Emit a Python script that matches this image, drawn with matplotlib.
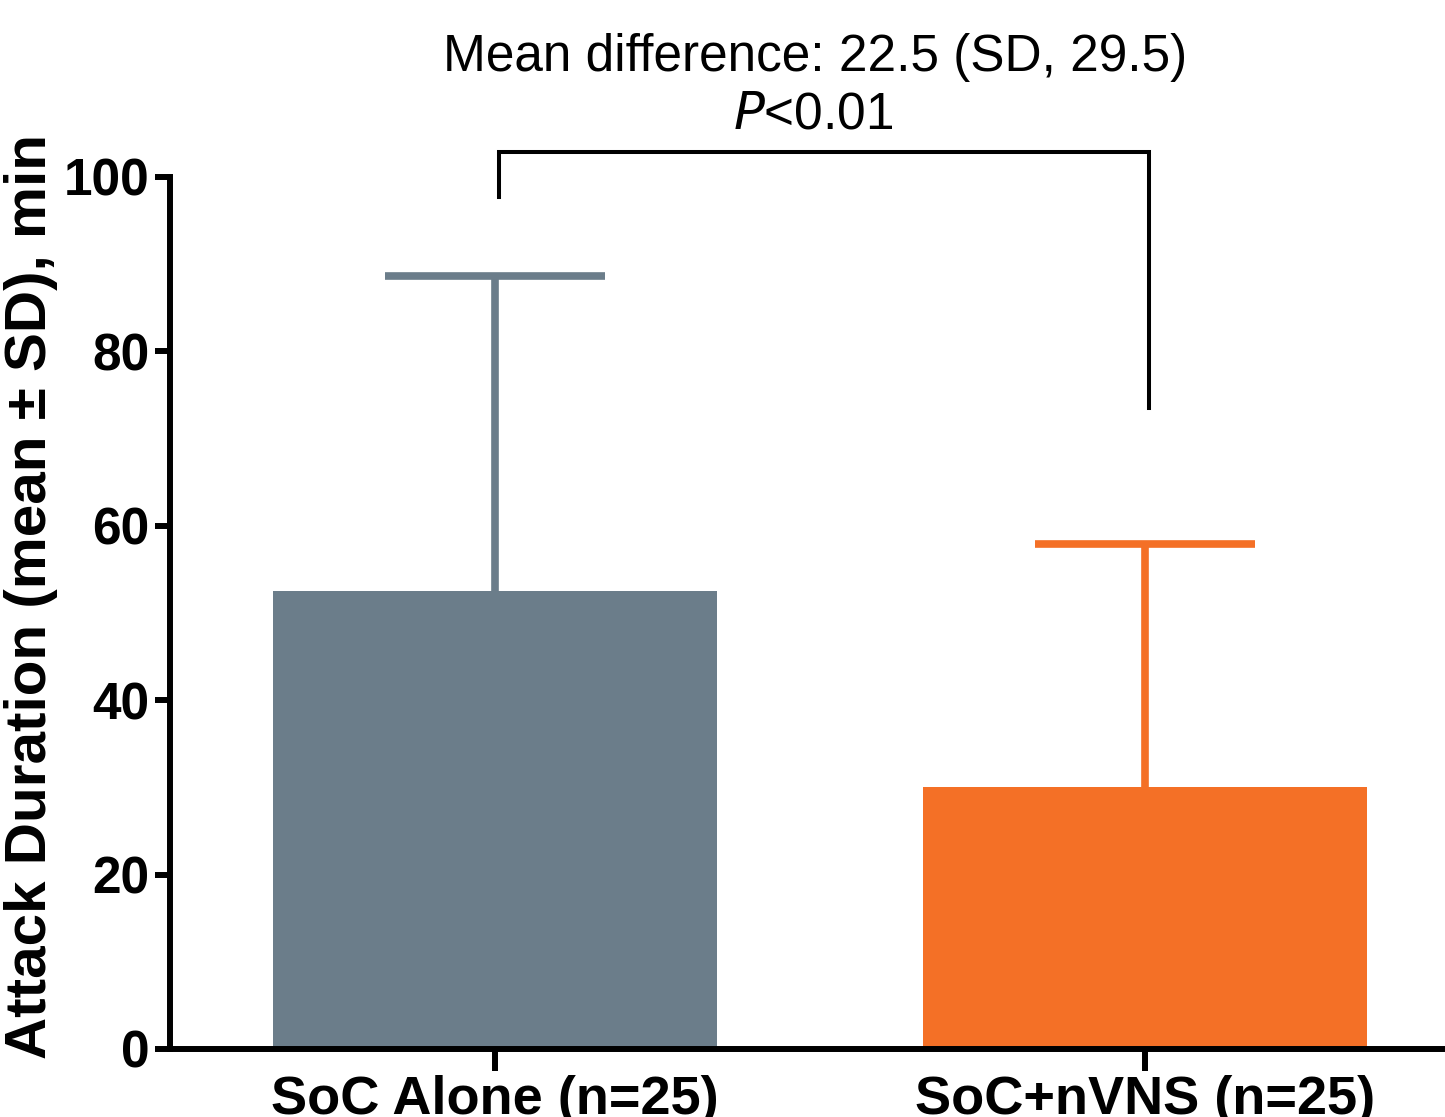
import matplotlib
matplotlib.use("Agg")
import matplotlib.pyplot as plt

categories = ["SoC Alone (n=25)", "SoC+nVNS (n=25)"]
means = [52.5, 30.0]
sd_upper = [88.6, 57.9]
colors = ["#6B7D8A", "#F47026"]
yticks = [0, 20, 40, 60, 80, 100]
title_line1 = "Mean difference: 22.5 (SD, 29.5)"
bracket_top = 102.9
bracket_left_bottom = 97.7
bracket_right_bottom = 73.5

plt.rcParams['font.family'] = ['Liberation Sans', 'DejaVu Sans']

W, H = 1445, 1117
fig = plt.figure(figsize=(W/100, H/100), dpi=100)
ax = fig.add_axes([170/W, 1-1049/H, (W-170)/W, (1049-177)/H])

x = list(range(len(categories)))
ax.bar(x, means, width=0.683, color=colors, zorder=2)
for xi, m, u, c in zip(x, means, sd_upper, colors):
    eb = ax.errorbar([xi], [m], yerr=[[0], [u - m]], fmt='none', ecolor=c,
                     elinewidth=5.5, capsize=79, capthick=5.5, zorder=1)
    caps = eb[1]
    if len(caps) > 1:
        caps[0].set_visible(False)

ax.set_xlim(-0.5, 1.4615)
ax.set_ylim(0, 100)
ax.set_yticks(yticks)
ax.set_xticks(x)
ax.set_xticklabels(categories, fontsize=39, fontweight='bold')
ax.tick_params(axis='y', labelsize=37, width=4.3, length=11, pad=4)
ax.tick_params(axis='x', width=4.3, length=16, pad=3)
for lab in ax.get_yticklabels():
    lab.set_fontweight('bold')
for s in ['top', 'right']:
    ax.spines[s].set_visible(False)
for s in ['left', 'bottom']:
    ax.spines[s].set_linewidth(4.3)
ax.spines['left'].set_bounds(0, 100)

ax.set_ylabel("Attack Duration (mean \u00b1 SD), min", fontsize=42,
              fontweight='bold')
ax.yaxis.set_label_coords(-0.088, 0.519)

# significance bracket
ax.plot([0.006, 0.006, 1.006, 1.006],
        [bracket_left_bottom, bracket_top, bracket_top, bracket_right_bottom],
        color='black', lw=2.9, clip_on=False, solid_joinstyle='miter')

fig.text(815/W, 1-58/H, title_line1, fontsize=37, ha='center', va='center')
fig.text(813/W, 1-115/H, r"$\it{P}$<0.01", fontsize=37, ha='center', va='center')

fig.savefig("out.png", dpi=100)
